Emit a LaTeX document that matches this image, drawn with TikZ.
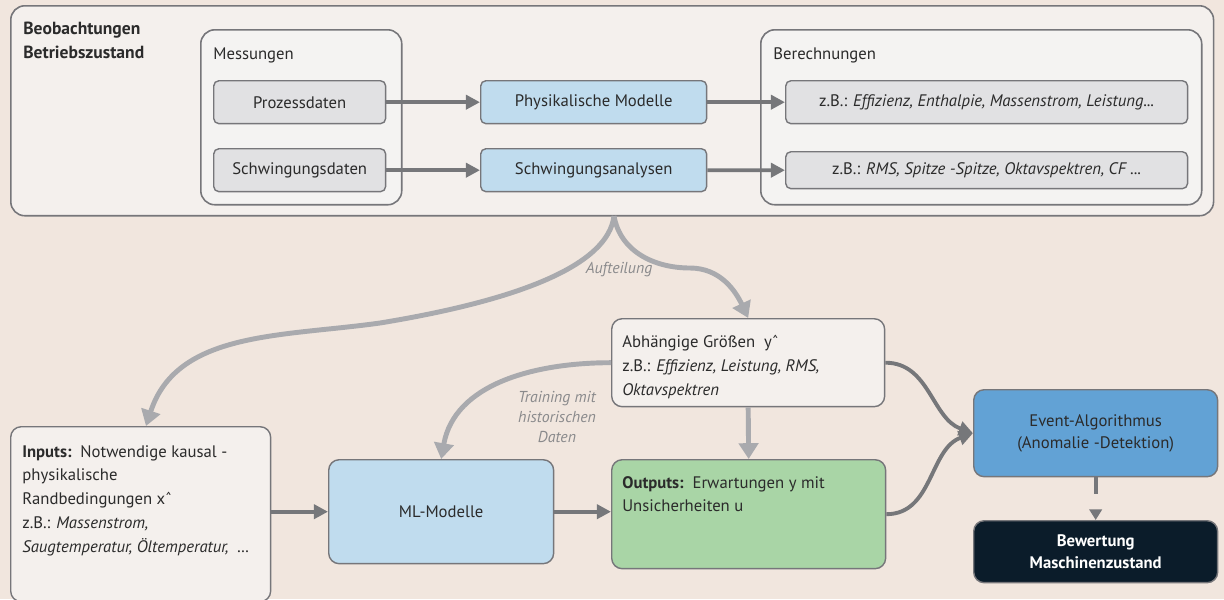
\documentclass[tikz,border=0pt]{standalone}
\usepackage{fontspec}
\setmainfont{PT Sans}
\usetikzlibrary{arrows.meta,
                calc}

\definecolor{bgbeige}{HTML}{F1E6DE}
\definecolor{panelfill}{HTML}{F4F0ED}
\definecolor{innerfill}{HTML}{F4F3F2}
\definecolor{framegray}{HTML}{76767A}
\definecolor{boxgray}{HTML}{E1E1E3}
\definecolor{lightblue}{HTML}{C0DCEE}
\definecolor{outgreen}{HTML}{A9D5A6}
\definecolor{eventblue}{HTML}{62A2D5}
\definecolor{navy}{HTML}{0B1C2A}
\definecolor{arrowdark}{HTML}{76777A}
\definecolor{arrowlight}{HTML}{A9AAAE}
\definecolor{notegray}{HTML}{8A8A8C}
\definecolor{textdark}{HTML}{2B2B2B}

\begin{document}
\begin{tikzpicture}[
x=0.02cm, y=-0.02cm,
font=\fontsize{9.5}{13.5}\selectfont, text=textdark,
panel/.style  = {draw=framegray, line width=0.9pt, fill=panelfill,
                 rounded corners=8pt, anchor=north west, inner sep=0pt},
inpanel/.style= {panel, fill=innerfill},
databox/.style= {draw=framegray, line width=0.8pt, fill=boxgray,
                 rounded corners=3pt, anchor=north west, inner sep=0pt,
                 minimum height=0.86cm},
bluebox/.style= {databox, fill=lightblue},
lowbox/.style = {draw=framegray, line width=0.8pt, rounded corners=6pt,
                 anchor=north west, inner sep=0pt},
txt/.style    = {anchor=north west, align=left, inner sep=0pt},
note/.style   = {font=\fontsize{9}{11.5}\selectfont\itshape, text=notegray,
                 align=center, inner sep=0pt},
darr/.style   = {draw=arrowdark, line width=2.2pt,
                 -{Triangle[length=8pt,width=8pt]}},
larr/.style   = {draw=arrowlight, line width=2.8pt,
                 -{Triangle[length=9pt,width=11pt]}}
                        ]
\fill[bgbeige] (0,0) rectangle (1224,599);
\useasboundingbox (0,0) rectangle (1224,599);
\clip (0,0) rectangle (1224,599);

% upper part
\node (top) [panel, minimum width=24.06cm, minimum height=4.2cm] at (10,5) {};
\node (toplab) [txt, font=\fontsize{10}{13.6}\selectfont\bfseries] at (23,22)
      {Beobachtungen\\Betriebszustand};

\node (mess) [inpanel, minimum width=4.02cm, minimum height=3.5cm] at (200,29) {};
\node (messlab) [anchor=west, inner sep=0pt] at (213,55) {Messungen};
\node (proz) [databox, minimum width=3.44cm] at (213,80) {Prozessdaten};
\node (schw) [databox, minimum width=3.44cm] at (213,148) {Schwingungsdaten};

\node (phys) [bluebox, minimum width=4.52cm] at (480,80) {Physikalische Modelle};
\node (sana) [bluebox, minimum width=4.52cm] at (480,148) {Schwingungsanalysen};

\node (ber) [inpanel, minimum width=8.82cm, minimum height=3.5cm] at (760,29) {};
\node (berlab) [anchor=west, inner sep=0pt] at (773,55) {Berechnungen};
\node (calc1) [databox, minimum width=8.04cm] at (785,80)
      {z.B.: \textit{Effizienz, Enthalpie, Massenstrom, Leistung...}};
\node (calc2) [databox, minimum width=8.04cm, minimum height=0.74cm] at (785,151)
      {z.B.: \textit{RMS, Spitze -Spitze, Oktavspektren, CF ...}};

\draw[darr] (proz) -- (phys);
\draw[darr] (schw) -- (sana);
\draw[darr] (phys) -- (calc1);
\draw[darr] (sana) -- (calc2);

% lower part
\node (inp) [lowbox, fill=panelfill, minimum width=5.2cm, minimum height=3.5cm] at (10,426) {};
\node (inptxt) [txt] at ([shift={(12,19)}]inp.north west)
      {\textbf{Inputs:}~~Notwendige kausal -\\physikalische\\Randbedingungen xˆ\\
       z.B.: \textit{Massenstrom,}\\\textit{Saugtemperatur, Öltemperatur,~~\dots}};

\node (ml) [lowbox, fill=lightblue, minimum width=4.5cm, minimum height=2.08cm] at (328,459) {};
\node at (ml.center) {ML-Modelle};

\node (abh) [lowbox, fill=panelfill, minimum width=5.46cm, minimum height=1.76cm] at (611,318) {};
\node (abhtxt) [txt] at ([shift={(11,17)}]abh.north west)
      {Abhängige Größen~~yˆ\\z.B.: \textit{Effizienz, Leistung, RMS,}\\\textit{Oktavspektren}};

\node (out) [lowbox, fill=outgreen, minimum width=5.48cm, minimum height=2.18cm] at (611,459) {};
\node (outtxt) [txt] at ([shift={(11,17)}]out.north west)
      {\textbf{Outputs:}~~Erwartungen y mit\\Unsicherheiten u};

\node (ev) [lowbox, fill=eventblue, minimum width=4.88cm, minimum height=1.74cm] at (973,389) {};
\node [align=center, font=\fontsize{9.5}{12.5}\selectfont] at (ev.center)
      {Event-Algorithmus\\(Anomalie -Detektion)};

\node (bew) [lowbox, fill=navy, minimum width=4.88cm, minimum height=1.24cm] at (973,520) {};
\node [align=center, text=white, font=\fontsize{9.5}{12.5}\selectfont\bfseries] at (bew.center)
      {Bewertung\\Maschinenzustand};

% connectors
\coordinate (split) at (614,216);
\draw[larr] (split) .. controls (608,265) and (520,300) .. (380,323)
            to[out=188, in=72] (inp.north -| 146,0);
\draw[larr] (split) to[out=-80, in=180] (690,268) to[out=0, in=115] (abh.north);
\node (auf) [note] at (619,270) {Aufteilung};

\draw[larr] (abh.west) to[out=180, in=80] (ml.north);
\node (train) [note] at (557,417) {Training mit\\historischen\\Daten};
\draw[larr] (abh.south) -- (out.north);

\draw[darr] (inp.east |- ml.west) -- (ml.west);
\draw[darr] (ml.east) -- (out.west |- ml.east);
\draw[darr] (abh.east) to[out=0, in=160] (ev.west);
\draw[darr] (out.east) to[out=0, in=200] (ev.west);
\draw[darr, dash pattern=on 9.5pt off 20pt, -{Triangle[length=6pt,width=7pt]}] (ev.south) -- (bew.north);
\end{tikzpicture}
\end{document}
